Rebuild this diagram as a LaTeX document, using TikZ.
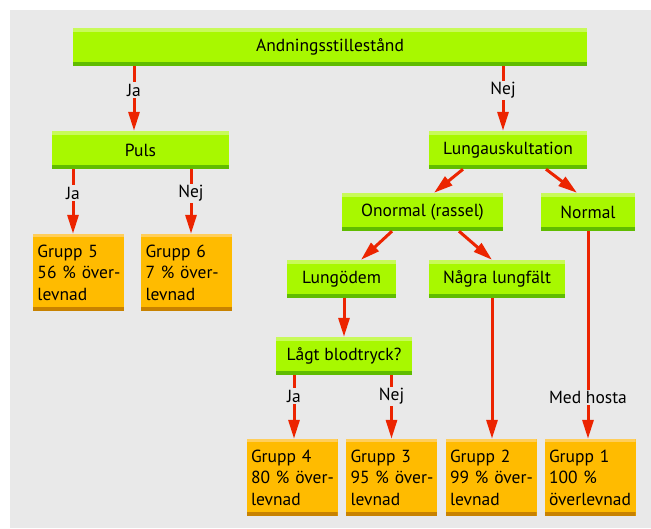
\documentclass[tikz,border=0pt]{standalone}
\usepackage{fontspec}
\setmainfont{PT Sans}
\usetikzlibrary{arrows.meta, calc}
\definecolor{bggray}{RGB}{233, 233, 233}
\definecolor{limegreen1}{RGB}{168, 248, 0}
\definecolor{limelight}{RGB}{200, 250, 90}
\definecolor{limedark}{RGB}{96, 188, 0}
\definecolor{amber1}{RGB}{255, 187, 0}
\definecolor{amberlight}{RGB}{255, 206, 90}
\definecolor{amberdark}{RGB}{200, 130, 0}
\definecolor{arrowred}{RGB}{236, 36, 0}

\tikzset{
  qbox/.style={fill=limegreen1, minimum height=38, inner sep=0pt,
    font=\fontsize{17.5}{21}\selectfont,
    path picture={
      \fill[limelight] (path picture bounding box.north west) rectangle ([yshift=-4pt]path picture bounding box.north east);
      \fill[limedark] ([yshift=4pt]path picture bounding box.south west) rectangle (path picture bounding box.south east);
    }},
  groupbox/.style={fill=amber1, minimum height=77, inner xsep=4.5pt, inner ysep=0pt,
    text width=82, align=left, font=\fontsize{17.5}{21.5}\selectfont,
    path picture={
      \fill[amberlight] (path picture bounding box.north west) rectangle ([yshift=-3pt]path picture bounding box.north east);
      \fill[amberdark] ([yshift=4pt]path picture bounding box.south west) rectangle (path picture bounding box.south east);
    }},
  redarrow/.style={draw=arrowred, line width=3, -{Triangle[length=19pt, width=11pt]}},
  answer/.style={fill=bggray, inner sep=1.5pt, font=\fontsize{17.5}{21}\selectfont}
}

\begin{document}
\begin{tikzpicture}[x=1pt, y=-1pt]
  \useasboundingbox (0,0) rectangle (651,528);
  \fill[bggray] (10,10) rectangle (651,528);

  % Questions
  \node[qbox, minimum width=514] (andn) at (330, 47) {Andningsstillestånd};
  \node[qbox, minimum width=177] (puls) at (140.5, 150) {Puls};
  \node[qbox, minimum width=158] (lunga) at (508, 150) {Lungauskultation};
  \node[qbox, minimum width=161] (onorm) at (422.5, 212) {Onormal (rassel)};
  \node[qbox, minimum width=94] (normal) at (588, 212) {Normal};
  \node[qbox, minimum width=109] (lungod) at (341.5, 279) {Lungödem};
  \node[qbox, minimum width=136] (nagra) at (497, 279) {Några lungfält};
  \node[qbox, minimum width=136] (lagt) at (344, 356) {Lågt blodtryck?};

  % Groups
  \node[groupbox] (g5) at (78.5, 272.5) {\mbox{Grupp 5}\\\mbox{56 \% över-}\\levnad};
  \node[groupbox] (g6) at (186.5, 272.5) {\mbox{Grupp 6}\\\mbox{7 \% över-}\\levnad};
  \node[groupbox] (g4) at (292, 477.5) {\mbox{Grupp 4}\\\mbox{80 \% över-}\\levnad};
  \node[groupbox] (g3) at (391.5, 477.5) {\mbox{Grupp 3}\\\mbox{95 \% över-}\\levnad};
  \node[groupbox] (g2) at (491, 477.5) {\mbox{Grupp 2}\\\mbox{99 \% över-}\\levnad};
  \node[groupbox] (g1) at (590, 477.5) {\mbox{Grupp 1}\\\mbox{100 \%}\\överlevnad};

  % Arrows
  \draw[redarrow] ([xshift=-6.5pt]puls.north |- andn.south) -- node[answer, pos=0.37] {Ja} ([xshift=-6.5pt]puls.north);
  \draw[redarrow] ([xshift=-5pt]lunga.north |- andn.south) -- node[answer, pos=0.37] {Nej} ([xshift=-5pt]lunga.north);
  \draw[redarrow] ([xshift=-5.5pt]g5.north |- puls.south) -- node[answer, pos=0.37] {Ja} ([xshift=-5.5pt]g5.north);
  \draw[redarrow] ([xshift=4.5pt]g6.north |- puls.south) -- node[answer, pos=0.37] {Nej} ([xshift=4.5pt]g6.north);
  \draw[redarrow] ([xshift=-45pt]lunga.south) -- ([xshift=11.5pt]onorm.north);
  \draw[redarrow] ([xshift=38pt]lunga.south) -- ([xshift=-11pt]normal.north);
  \draw[redarrow] ([xshift=-30.5pt]onorm.south) -- ([xshift=19.5pt]lungod.north);
  \draw[redarrow] ([xshift=36.5pt]onorm.south) -- ([xshift=-5pt]nagra.north);
  \draw[redarrow] (lagt.north |- lungod.south) -- (lagt.north);
  \draw[redarrow] ([xshift=2pt]g4.north |- lagt.south) -- node[answer, pos=0.33] {Ja} ([xshift=2pt]g4.north);
  \draw[redarrow] (g3.north |- lagt.south) -- node[answer, pos=0.33] {Nej} (g3.north);
  \draw[redarrow] ([xshift=1pt]g2.north |- nagra.south) -- ([xshift=1pt]g2.north);
  \draw[redarrow] (normal.south) -- node[answer, pos=0.8] {Med hosta} (normal.south |- g1.north);
\end{tikzpicture}
\end{document}
